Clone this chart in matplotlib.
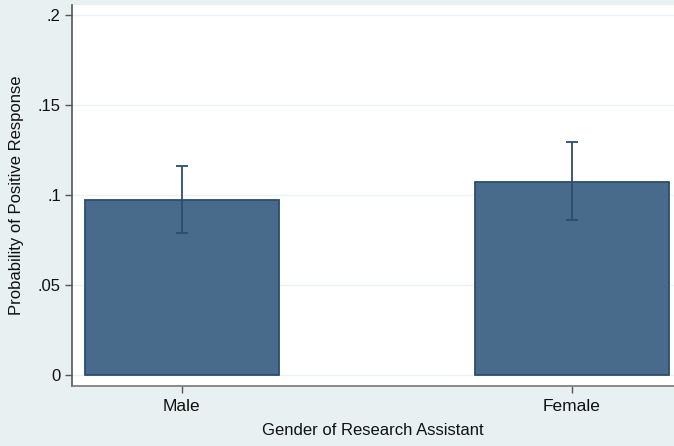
import matplotlib
matplotlib.use("Agg")
import matplotlib.pyplot as plt

plt.rcParams['font.family'] = ['Liberation Sans', 'DejaVu Sans']

# Data
groups = ["Male", "Female"]
prob = [0.0972, 0.1074]
ci_low = [0.0790, 0.0863]
ci_high = [0.1161, 0.1293]
yticks = [0, 0.05, 0.1, 0.15, 0.2]
ytick_labels = ["0", ".05", ".1", ".15", ".2"]

bg = "#e8f0f2"
bar_fill = "#486b8c"
bar_edge = "#2a4d70"

fig = plt.figure(figsize=(6.74, 4.46), dpi=100, facecolor=bg)
ax = fig.add_axes([0.1068, 0.1345, 0.8932, 0.8543])
ax.set_facecolor("white")

x = list(range(len(groups)))
yerr = [[p - lo for p, lo in zip(prob, ci_low)],
        [hi - p for p, hi in zip(prob, ci_high)]]
ax.bar(x, prob, width=0.497, color=bar_fill, edgecolor=bar_edge, linewidth=1.3, zorder=2)
ax.errorbar(x, prob, yerr=yerr, fmt="none", ecolor=bar_edge, elinewidth=1.3,
            capsize=4.5, capthick=1.3, zorder=3)

ax.set_xlim(-0.281, 1.262)
ax.set_ylim(-0.0061, 0.2056)
ax.set_yticks(yticks)
ax.set_yticklabels(ytick_labels)
ax.set_xticks(x)
ax.set_xticklabels(groups)

ax.yaxis.grid(True, color="#edf3f5", linewidth=1.0, zorder=0)
ax.set_axisbelow(True)

for s in ["top", "right"]:
    ax.spines[s].set_visible(False)
ax.spines["left"].set_color("#555555")
ax.spines["bottom"].set_color("#777777")
ax.spines["left"].set_linewidth(1.2)
ax.spines["bottom"].set_linewidth(1.2)

ax.tick_params(axis="both", direction="out", length=5, width=1, colors="#555555",
               labelcolor="#111111", labelsize=12)
ax.tick_params(axis="x", labelsize=12.5, pad=4)
ax.tick_params(axis="y", pad=3)

ax.set_ylabel("Probability of Positive Response", fontsize=12, color="#111111", labelpad=10)
ax.set_xlabel("Gender of Research Assistant", fontsize=12, color="#111111", labelpad=7)

fig.savefig("out.png", dpi=100, facecolor=bg)
